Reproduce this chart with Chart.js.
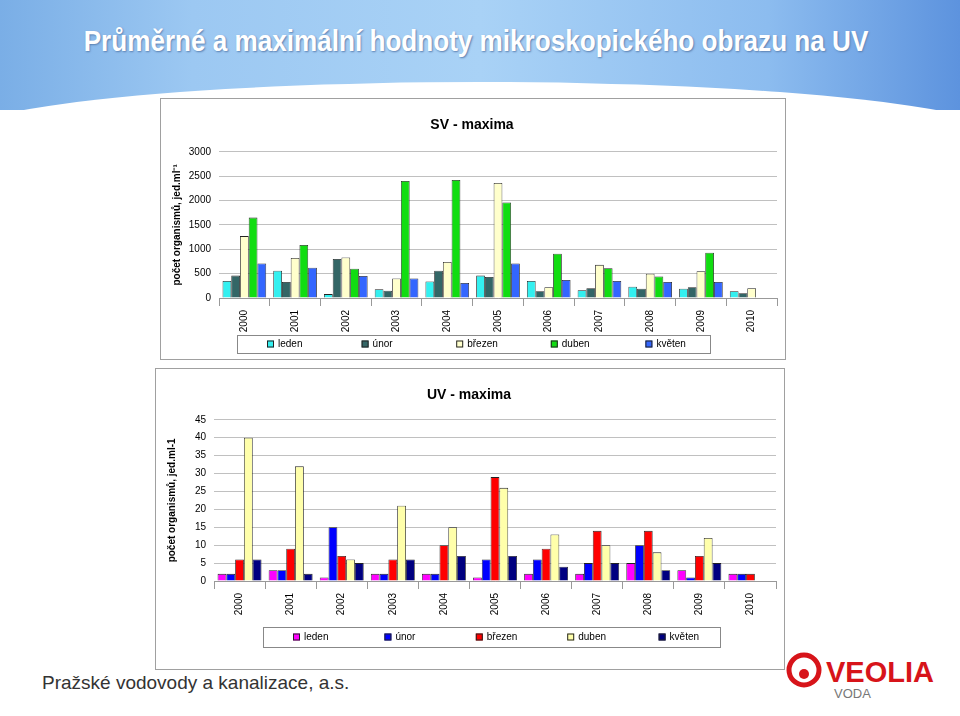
<!DOCTYPE html>
<html><head><meta charset="utf-8">
<script src="https://cdn.jsdelivr.net/npm/chart.js@4"></script>
<style>
body{margin:0;width:960px;height:716px;position:relative;background:#fff;font-family:"Liberation Sans",Arial,sans-serif;overflow:hidden}
#hdr{position:absolute;left:0;top:0;width:960px;height:110px;background:linear-gradient(90deg,#7aaee6 0%,#9cc8f2 20%,#a9d2f6 50%,#8cbcef 80%,#5d93de 100%)}
#hdr:after{content:"";position:absolute;left:-60px;top:82px;width:1080px;height:120px;border-radius:50%;background:#fff}
#title{position:absolute;left:0;top:25px;width:952px;text-align:center;color:#fff;font:bold 29px "Liberation Sans",Arial,sans-serif;text-shadow:1px 1px 2px #5a7fb0;transform:scaleX(0.9)}
.box{position:absolute;background:#fff;border:1px solid #a0a0a0}
#footer{position:absolute;left:42px;top:672px;font-size:19px;color:#333}
#logo{position:absolute;left:786px;top:652px}
</style></head><body>
<div id="hdr"></div>
<div id="title">Průměrné a maximální hodnoty mikroskopického obrazu na UV</div>
<div class="box" style="left:160px;top:98px;width:624px;height:260px"><canvas id="sv" width="624" height="260"></canvas></div>
<div class="box" style="left:155px;top:368px;width:628px;height:300px"><canvas id="uv" width="628" height="300"></canvas></div>
<div id="footer">Pražské vodovody a kanalizace, a.s.</div>
<svg id="logo" width="160" height="52">
<circle cx="18" cy="18" r="15" fill="none" stroke="#d7141a" stroke-width="5"/>
<circle cx="18" cy="22" r="5" fill="#d7141a"/>
<text x="40" y="30" font-family="Liberation Sans,Arial" font-weight="bold" font-size="29" fill="#d7141a">VEOLIA</text>
<text x="48" y="46" font-family="Liberation Sans,Arial" font-size="13" fill="#777">VODA</text>
</svg>
<script>
const years = ['2000','2001','2002','2003','2004','2005','2006','2007','2008','2009','2010'];
const months = ['leden','únor','březen','duben','květen'];

// SV - maxima
const svLeden  = [350, 560, 80, 180, 340, 460, 350, 160, 230, 190, 140];
const svUnor   = [460, 330, 800, 150, 560, 430, 140, 200, 190, 220, 100];
const svBrezen = [1270, 820, 830, 400, 740, 2360, 220, 680, 500, 550, 200];
const svDuben  = [1650, 1090, 600, 2400, 2420, 1960, 910, 610, 440, 930, null];
const svKveten = [710, 620, 450, 400, 310, 710, 370, 350, 330, 330, null];

// UV - maxima
const uvLeden  = [2, 3, 1, 2, 2, 1, 2, 2, 5, 3, 2];
const uvUnor   = [2, 3, 15, 2, 2, 6, 6, 5, 10, 1, 2];
const uvBrezen = [6, 9, 7, 6, 10, 29, 9, 14, 14, 7, 2];
const uvDuben  = [40, 32, 6, 21, 15, 26, 13, 10, 8, 12, null];
const uvKveten = [6, 2, 5, 6, 7, 7, 4, 5, 3, 5, null];

// boxed legend with evenly spaced entries
const boxLegend = {
  id: 'boxLegend',
  afterDraw(chart, args, o) {
    const c = chart.ctx;
    c.save();
    c.strokeStyle = '#888'; c.lineWidth = 1;
    c.strokeRect(o.x + .5, o.y + .5, o.w, o.h);
    c.font = '10px "Liberation Sans", Arial';
    c.textBaseline = 'middle';
    const step = o.w / 5, cy = o.y + o.h / 2;
    chart.data.datasets.forEach((ds, i) => {
      const x = o.x + 30 + i * step;
      c.fillStyle = ds.backgroundColor;
      c.fillRect(x, cy - 3.5, 7, 7);
      c.strokeStyle = '#222';
      c.strokeRect(x + .5, cy - 3, 6, 6);
      c.fillStyle = '#000';
      c.fillText(ds.label, x + 11, cy);
    });
    c.restore();
  }
};

function makeChart(id, title, series, colors, max, step, axisTitle, titleGap, bottomPad, legend) {
  Chart.defaults.font.family = '"Liberation Sans", Arial, sans-serif';
  Chart.defaults.color = '#000';
  new Chart(document.getElementById(id), {
    type: 'bar',
    data: {
      labels: years,
      datasets: series.map((d, i) => ({
        label: months[i], data: d, backgroundColor: colors[i],
        borderColor: '#222', borderWidth: 0.8,
        categoryPercentage: 0.86, barPercentage: 1
      }))
    },
    options: {
      responsive: false, animation: false,
      layout: { padding: { left: 6, right: 8, top: 4, bottom: bottomPad } },
      plugins: {
        title: { display: true, text: title, font: { size: 14, weight: 'bold' }, padding: { top: 14, bottom: titleGap } },
        legend: { display: false },
        boxLegend: legend
      },
      scales: {
        x: {
          grid: { display: true, drawOnChartArea: false, color: '#999', offset: true },
          border: { color: '#999' },
          ticks: { maxRotation: 90, minRotation: 90, font: { size: 10 }, padding: 4 },
          afterFit: s => { s.height = 36; }
        },
        y: {
          min: 0, max: max,
          ticks: { stepSize: step, font: { size: 10 }, padding: 8, callback: v => v },
          grid: { color: '#c0c0c0', drawTicks: false },
          border: { display: false },
          title: { display: true, text: axisTitle, font: { size: 10, weight: 'bold' } },
          afterFit: s => { s.width = 52; }
        }
      }
    },
    plugins: [boxLegend]
  });
}

makeChart('sv', 'SV - maxima', [svLeden, svUnor, svBrezen, svDuben, svKveten],
  ['#33f0f0', '#336666', '#ffffcc', '#11dd11', '#3366ff'], 3000, 500, 'počet organismů, jed.ml⁻¹', 18, 25,
  { x: 76, y: 236, w: 473, h: 18 });
makeChart('uv', 'UV - maxima', [uvLeden, uvUnor, uvBrezen, uvDuben, uvKveten],
  ['#ff00ff', '#0000ff', '#ff0000', '#ffffaa', '#000080'], 45, 5, 'počet organismů, jed.ml-1', 16, 52,
  { x: 107, y: 258, w: 457, h: 20 });
</script>
</body></html>
